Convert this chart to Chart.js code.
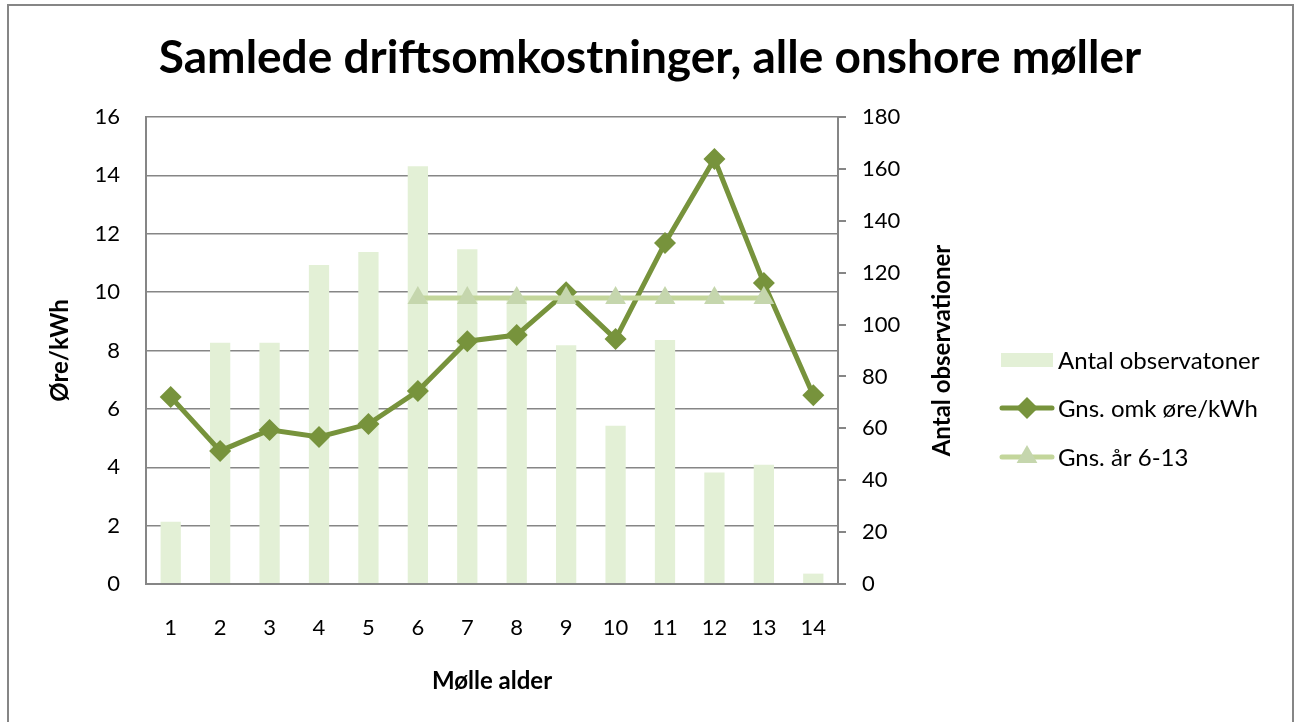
<!DOCTYPE html>
<html>
<head>
<meta charset="utf-8">
<script src="https://cdn.jsdelivr.net/npm/chart.js@4.4.1/dist/chart.umd.min.js"></script>
<style>
  html, body { margin: 0; padding: 0; background: #fff; }
  #wrap { width: 1295px; height: 722px; }
</style>
</head>
<body>
<div id="wrap"><canvas id="chart" width="1295" height="722"></canvas></div>
<script>
// data
const ages = ['1', '2', '3', '4', '5', '6', '7', '8', '9', '10', '11', '12', '13', '14'];
const antalObs = [24, 93, 93, 123, 128, 161, 129, 110, 92, 61, 94, 43, 46, 4];
const gnsOmk = [6.41, 4.56, 5.28, 5.04, 5.48, 6.61, 8.32, 8.53, 10.0, 8.39, 11.68, 14.56, 10.31, 6.47];
const gnsAar = [null, null, null, null, null, 9.8, 9.8, 9.8, 9.8, 9.8, 9.8, 9.8, 9.8, null];

const titleText = 'Samlede driftsomkostninger, alle onshore møller';
const xTitle = 'Mølle alder';
const yTitle = 'Øre/kWh';
const y1Title = 'Antal observationer';

const FONT = 'Lato, "Open Sans", sans-serif';
const GRID = '#868686';
const BAR = '#e3f0d6';
const DARK = '#77933c';
const LIGHT = '#c3d69b';
const TRI = '#c5d6ad';

// title, rotated axis titles, legend and frame
const decor = {
    id: 'decor',
    afterDraw(chart) {
        const ctx = chart.ctx;
        const area = chart.chartArea;
        ctx.save();

        ctx.strokeStyle = GRID;
        ctx.lineWidth = 2;
        ctx.strokeRect(8, 5, 1285, 760);

        ctx.fillStyle = '#000';
        ctx.textAlign = 'center';
        ctx.textBaseline = 'middle';
        ctx.font = 'bold 46px ' + FONT;
        ctx.fillText(titleText, 650, 58);

        ctx.font = 'bold 24px ' + FONT;
        ctx.fillText(xTitle, (area.left + area.right) / 2, 681);

        const midY = (area.top + area.bottom) / 2;
        ctx.save();
        ctx.translate(60, midY);
        ctx.rotate(-Math.PI / 2);
        ctx.fillText(yTitle, 0, 0);
        ctx.restore();

        ctx.save();
        ctx.translate(942, midY);
        ctx.rotate(-Math.PI / 2);
        ctx.fillText(y1Title, 0, 0);
        ctx.restore();

        // legend
        const sets = chart.data.datasets;
        const rows = [360, 408, 457];
        ctx.font = '24px ' + FONT;
        ctx.textAlign = 'left';
        sets.forEach((ds, i) => {
            const y = rows[i];
            if (ds.type === 'bar') {
                ctx.fillStyle = ds.backgroundColor;
                ctx.fillRect(1001, y - 7, 52, 14);
            } else {
                ctx.strokeStyle = ds.borderColor;
                ctx.lineWidth = ds.borderWidth;
                ctx.lineCap = 'round';
                ctx.beginPath();
                ctx.moveTo(1002, y);
                ctx.lineTo(1052, y);
                ctx.stroke();
                ctx.fillStyle = ds.pointBackgroundColor;
                Chart.helpers.drawPoint(ctx, {
                    pointStyle: ds.pointStyle,
                    radius: ds.pointRadius,
                    rotation: 0,
                    borderWidth: 0
                }, 1027, y);
            }
            ctx.fillStyle = '#000';
            ctx.fillText(ds.label, 1058, y + 1);
        });
        ctx.restore();
    }
};

new Chart(document.getElementById('chart'), {
    data: {
        labels: ages,
        datasets: [
            {
                type: 'bar',
                label: 'Antal observatoner',
                data: antalObs,
                yAxisID: 'y1',
                backgroundColor: BAR,
                categoryPercentage: 0.41,
                barPercentage: 1,
                order: 3
            },
            {
                type: 'line',
                label: 'Gns. omk øre/kWh',
                data: gnsOmk,
                yAxisID: 'y',
                borderColor: DARK,
                borderWidth: 5,
                pointStyle: 'rectRot',
                pointRadius: 11,
                pointBackgroundColor: DARK,
                pointBorderWidth: 0,
                tension: 0,
                order: 2
            },
            {
                type: 'line',
                label: 'Gns. år 6-13',
                data: gnsAar,
                yAxisID: 'y',
                borderColor: LIGHT,
                borderWidth: 5,
                pointStyle: 'triangle',
                pointRadius: 12,
                pointBackgroundColor: TRI,
                pointBorderWidth: 0,
                spanGaps: false,
                order: 1
            }
        ]
    },
    options: {
        responsive: false,
        animation: false,
        layout: { padding: { left: 0, top: 117, right: 357, bottom: 78 } },
        plugins: {
            legend: { display: false },
            title: { display: false },
            tooltip: { enabled: false }
        },
        scales: {
            x: {
                grid: { display: true, drawOnChartArea: false, drawTicks: false },
                border: { color: GRID, width: 2 },
                ticks: { color: '#000', font: { family: FONT, size: 22 }, padding: 31 },
                afterFit(scale) { scale.height = 60; }
            },
            y: {
                position: 'left',
                min: 0,
                max: 16,
                ticks: { stepSize: 2, color: '#000', font: { family: FONT, size: 22 }, padding: 26 },
                grid: { color: GRID, lineWidth: 1.5, drawTicks: false },
                border: { color: GRID, width: 2 },
                afterFit(scale) { scale.width = 146; }
            },
            y1: {
                position: 'right',
                min: 0,
                max: 180,
                ticks: { stepSize: 20, color: '#000', font: { family: FONT, size: 22 }, padding: 16 },
                grid: { drawOnChartArea: false, drawTicks: true, tickLength: 8, color: GRID, lineWidth: 2 },
                border: { color: GRID, width: 2 },
                afterFit(scale) { scale.width = 100; }
            }
        }
    },
    plugins: [decor]
});
</script>
</body>
</html>
